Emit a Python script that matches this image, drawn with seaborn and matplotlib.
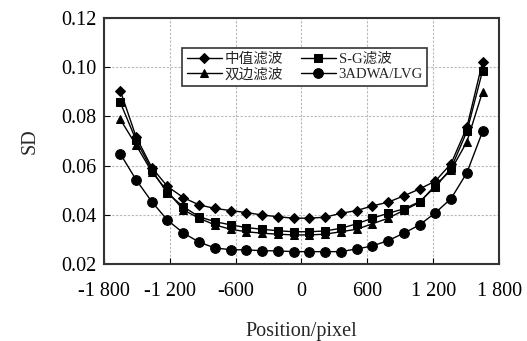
import numpy as np
import pandas as pd
import matplotlib
matplotlib.use("Agg")
import matplotlib.pyplot as plt
import seaborn as sns

# positions of the sample points (pixel)
pos = [-1650, -1507, -1363, -1220, -1076, -933, -789, -646, -502, -359, -215, -72,
       72, 215, 359, 502, 646, 789, 933, 1076, 1220, 1363, 1507, 1650]

median = [0.0905, 0.0718, 0.0592, 0.0515, 0.0470, 0.0440, 0.0426, 0.0417, 0.0409, 0.0399, 0.0392, 0.0386,
          0.0386, 0.0390, 0.0406, 0.0417, 0.0436, 0.0451, 0.0477, 0.0505, 0.0537, 0.0608, 0.0756, 0.1023]
sg = [0.0857, 0.0704, 0.0582, 0.0487, 0.0433, 0.0392, 0.0372, 0.0359, 0.0348, 0.0341, 0.0335, 0.0331,
      0.0331, 0.0334, 0.0345, 0.0363, 0.0386, 0.0406, 0.0424, 0.0453, 0.0514, 0.0589, 0.0739, 0.0986]
bilateral = [0.0788, 0.0684, 0.0575, 0.0495, 0.0420, 0.0386, 0.0359, 0.0341, 0.0331, 0.0325, 0.0321, 0.0318,
             0.0318, 0.0321, 0.0331, 0.0341, 0.0363, 0.0386, 0.0418, 0.0450, 0.0520, 0.0582, 0.0697, 0.0901]
adwa = [0.0648, 0.0543, 0.0453, 0.0378, 0.0326, 0.0289, 0.0265, 0.0258, 0.0257, 0.0254, 0.0253, 0.0250,
        0.0250, 0.0250, 0.0250, 0.0261, 0.0273, 0.0295, 0.0325, 0.0359, 0.0408, 0.0466, 0.0571, 0.0739]

names = ["中值滤波", "双边滤波", "S-G滤波", "3ADWA/LVG"]
xticks = [-1800, -1200, -600, 0, 600, 1200, 1800]
xticklabels = ["-1 800", "-1 200", "-600", "0", "600", "1 200", "1 800"]
yticks = [0.02, 0.04, 0.06, 0.08, 0.10, 0.12]

df = pd.concat([
    pd.DataFrame({"pos": pos, "sd": median, "method": names[0]}),
    pd.DataFrame({"pos": pos, "sd": bilateral, "method": names[1]}),
    pd.DataFrame({"pos": pos, "sd": sg, "method": names[2]}),
    pd.DataFrame({"pos": pos, "sd": adwa, "method": names[3]}),
])

sns.set_style("ticks")
plt.rcParams['font.family'] = ['Liberation Serif', 'Noto Sans CJK SC']

fig = plt.figure(figsize=(5.27, 3.41), dpi=100)
ax = fig.add_axes([0.197, 0.226, 0.750, 0.721])

marks = {names[0]: "D", names[1]: "^", names[2]: "s", names[3]: "o"}
sizes = {names[0]: 5.5, names[1]: 5.5, names[2]: 5.5, names[3]: 7}
for n in names:
    sns.lineplot(data=df[df.method == n], x="pos", y="sd", ax=ax, color="black",
                 marker=marks[n], markersize=sizes[n], markeredgecolor="black",
                 linewidth=1.0, label=n)

ax.set_xlim(-1800, 1800)
ax.set_ylim(0.02, 0.12)
ax.set_xticks(xticks)
ax.set_xticklabels(xticklabels)
ax.set_yticks(yticks)
ax.set_yticklabels([f"{v:.2f}" for v in yticks])
ax.tick_params(direction="in", length=4, labelsize=14.5, colors="black")
ax.tick_params(axis="x", pad=13)
ax.tick_params(axis="y", pad=5)
ax.grid(True, linestyle=(0, (2, 1.5)), color="#b8b8b8", linewidth=0.8)
for s in ax.spines.values():
    s.set_linewidth(1.5)
    s.set_color("#333333")
ax.set_xlabel("Position/pixel", fontsize=14.5, labelpad=15)
ax.set_ylabel("SD", fontsize=14.5, labelpad=16)

leg = ax.legend(ncol=2, loc="upper left", bbox_to_anchor=(0.199, 0.878), borderaxespad=0,
                fontsize=10.5, frameon=True, fancybox=False, handlelength=2.4,
                handletextpad=0.2, columnspacing=1.2, labelspacing=0.15, borderpad=0.3)
leg.get_frame().set_edgecolor("#333333")
leg.get_frame().set_linewidth(1.2)
leg.get_frame().set_alpha(1)

fig.savefig("out.png", dpi=100)
